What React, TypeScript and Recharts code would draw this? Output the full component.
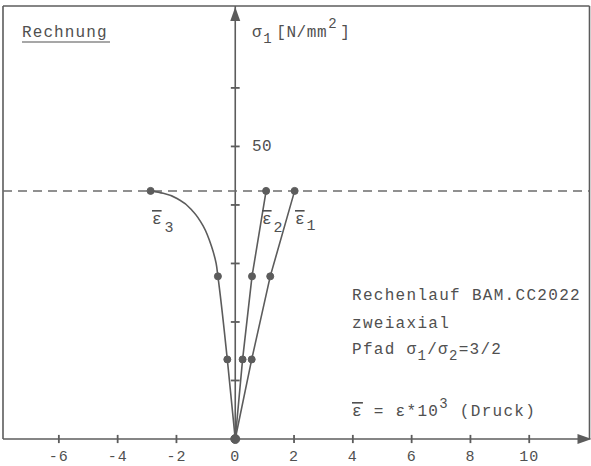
import React from "react";
import {
  ComposedChart,
  Line,
  XAxis,
  YAxis,
  ReferenceLine,
  ReferenceDot,
} from "recharts";

// axis setup (eps*10^3 on x, sigma_1 in N/mm^2 on y)
const xTicks = [-6, -4, -2, 0, 2, 4, 6, 8, 10];
const yTicks = [10, 20, 30, 40, 50, 60];
const xMin = -7.9;
const xMax = 12.05;
const yMax = 74;
const sigmaPeak = 42.4;

// computed points (marked with dots)
const eps1 = [
  { x: 0, y: 0 },
  { x: 0.56, y: 13.6 },
  { x: 1.19, y: 27.8 },
  { x: 2.02, y: 42.4 },
];
const eps2 = [
  { x: 0, y: 0 },
  { x: 0.25, y: 13.6 },
  { x: 0.57, y: 27.8 },
  { x: 1.05, y: 42.4 },
];
const eps3 = [
  { x: 0, y: 0 },
  { x: -0.27, y: 13.6 },
  { x: -0.59, y: 27.8 },
  { x: -2.88, y: 42.4 },
];
// drawn curve for eps3
const eps3Curve = [
  { x: 0, y: 0 },
  { x: -0.27, y: 13.6 },
  { x: -0.59, y: 27.8 },
  { x: -0.65, y: 30.0 },
  { x: -0.8, y: 32.8 },
  { x: -1.08, y: 36.3 },
  { x: -1.42, y: 38.8 },
  { x: -1.88, y: 40.8 },
  { x: -2.45, y: 42.0 },
  { x: -2.88, y: 42.4 },
];

const ink = "#5c5c5c";
const txt = "#505050";
const mono = "'Liberation Mono', 'DejaVu Sans Mono', monospace";
const dotStyle = { r: 3.5, fill: ink, stroke: ink, strokeWidth: 1 };

const upArrow = (p: any) => (
  <path d={`M${p.cx},${p.cy + 1} l-5,14 l10,0 z`} fill={ink} />
);
const rightArrow = (p: any) => (
  <path d={`M${p.cx + 2},${p.cy} l-14,-5 l0,10 z`} fill={ink} />
);

const Overlay = () => (
  <svg
    width={591}
    height={466}
    style={{ position: "absolute", left: 0, top: 0, pointerEvents: "none" }}
    fontFamily={mono}
    fill={txt}
  >
    <text x={22} y={37} fontSize={16} letterSpacing={1.1}>
      Rechnung
    </text>
    <line x1={22} x2={110} y1={42} y2={42} stroke={txt} strokeWidth={1.2} />

    <text x={252} y={37} fontSize={16} letterSpacing={0.6}>
      <tspan>σ</tspan>
      <tspan dx={1} dy={6} fontSize={14}>1</tspan>
      <tspan dx={4} dy={-6}>[N/mm</tspan>
      <tspan dx={1} dy={-9} fontSize={14}>2</tspan>
      <tspan dx={3} dy={9}>]</tspan>
    </text>
    <text x={252} y={151} fontSize={16} letterSpacing={0.5}>
      50
    </text>

    <text x={152} y={224} fontSize={16}>
      <tspan style={{ textDecoration: "overline" }}>ε</tspan>
      <tspan dx={3} dy={8} fontSize={15}>3</tspan>
    </text>
    <text x={262} y={224} fontSize={16}>
      <tspan style={{ textDecoration: "overline" }}>ε</tspan>
      <tspan dx={2} dy={8} fontSize={15}>2</tspan>
    </text>
    <text x={295} y={224} fontSize={16}>
      <tspan style={{ textDecoration: "overline" }}>ε</tspan>
      <tspan dx={2} dy={6} fontSize={15}>1</tspan>
    </text>

    <g fontSize={16} letterSpacing={1.3}>
      <text x={352} y={300}>Rechenlauf BAM.CC2022</text>
      <text x={352} y={328}>zweiaxial</text>
      <text x={352} y={354}>
        <tspan>Pfad σ</tspan>
        <tspan dy={6} fontSize={14}>1</tspan>
        <tspan dy={-6}>/σ</tspan>
        <tspan dy={6} fontSize={14}>2</tspan>
        <tspan dy={-6}>=3/2</tspan>
      </text>
      <text x={352} y={416}>
        <tspan style={{ textDecoration: "overline" }}>ε</tspan>
        <tspan> = ε*10</tspan>
        <tspan dy={-8} fontSize={14}>3</tspan>
        <tspan dy={8}> (Druck)</tspan>
      </text>
    </g>
  </svg>
);

export default function App() {
  return (
    <div
      style={{
        position: "absolute",
        left: 0,
        top: 0,
        width: 591,
        height: 466,
        background: "#fff",
      }}
    >
      <ComposedChart
        width={591}
        height={466}
        margin={{ top: 6, right: 1.5, left: 3, bottom: 0 }}
      >
        <XAxis
          dataKey="x"
          type="number"
          domain={[xMin, xMax]}
          allowDataOverflow
          ticks={xTicks}
          tickLine={false}
          tickSize={0}
          tickMargin={11}
          height={27}
          axisLine={{ stroke: ink, strokeWidth: 1.6 }}
          tick={{ fontFamily: mono, fontSize: 15, fill: txt, letterSpacing: 1 }}
        />
        <YAxis type="number" domain={[0, yMax]} allowDataOverflow hide />

        {/* frame */}
        <ReferenceLine y={yMax} stroke={ink} strokeWidth={1.6} ifOverflow="visible" />
        <ReferenceLine x={xMin} stroke={ink} strokeWidth={1.6} ifOverflow="visible" />
        <ReferenceLine x={xMax} stroke={ink} strokeWidth={1.6} ifOverflow="visible" />

        {/* vertical axis through zero */}
        <ReferenceLine x={0} stroke={ink} strokeWidth={1.6} ifOverflow="visible" />
        {yTicks.map((t) => (
          <ReferenceLine
            key={"yt" + t}
            segment={[
              { x: -0.15, y: t },
              { x: 0.15, y: t },
            ]}
            stroke={ink}
            strokeWidth={1.8}
            ifOverflow="visible"
          />
        ))}
        {xTicks.map((t) => (
          <ReferenceLine
            key={"xt" + t}
            segment={[
              { x: t, y: -0.7 },
              { x: t, y: 0.7 },
            ]}
            stroke={ink}
            strokeWidth={1.8}
            ifOverflow="visible"
          />
        ))}

        <ReferenceLine
          y={sigmaPeak}
          stroke="#6c6c6c"
          strokeWidth={1.5}
          strokeDasharray="9 6"
          ifOverflow="visible"
        />

        <Line
          data={eps1}
          dataKey="y"
          type="linear"
          stroke={ink}
          strokeWidth={1.6}
          dot={dotStyle}
          isAnimationActive={false}
        />
        <Line
          data={eps2}
          dataKey="y"
          type="linear"
          stroke={ink}
          strokeWidth={1.6}
          dot={dotStyle}
          isAnimationActive={false}
        />
        <Line
          data={eps3Curve}
          dataKey="y"
          type="monotoneY"
          stroke={ink}
          strokeWidth={1.6}
          dot={false}
          isAnimationActive={false}
        />
        <Line
          data={eps3}
          dataKey="y"
          stroke="none"
          dot={dotStyle}
          isAnimationActive={false}
        />

        <ReferenceDot x={0} y={0} r={4.5} fill={ink} stroke={ink} ifOverflow="visible" />
        <ReferenceDot x={0} y={yMax} r={0} shape={upArrow} ifOverflow="visible" />
        <ReferenceDot x={xMax} y={0} r={0} shape={rightArrow} ifOverflow="visible" />
      </ComposedChart>
      <Overlay />
    </div>
  );
}
